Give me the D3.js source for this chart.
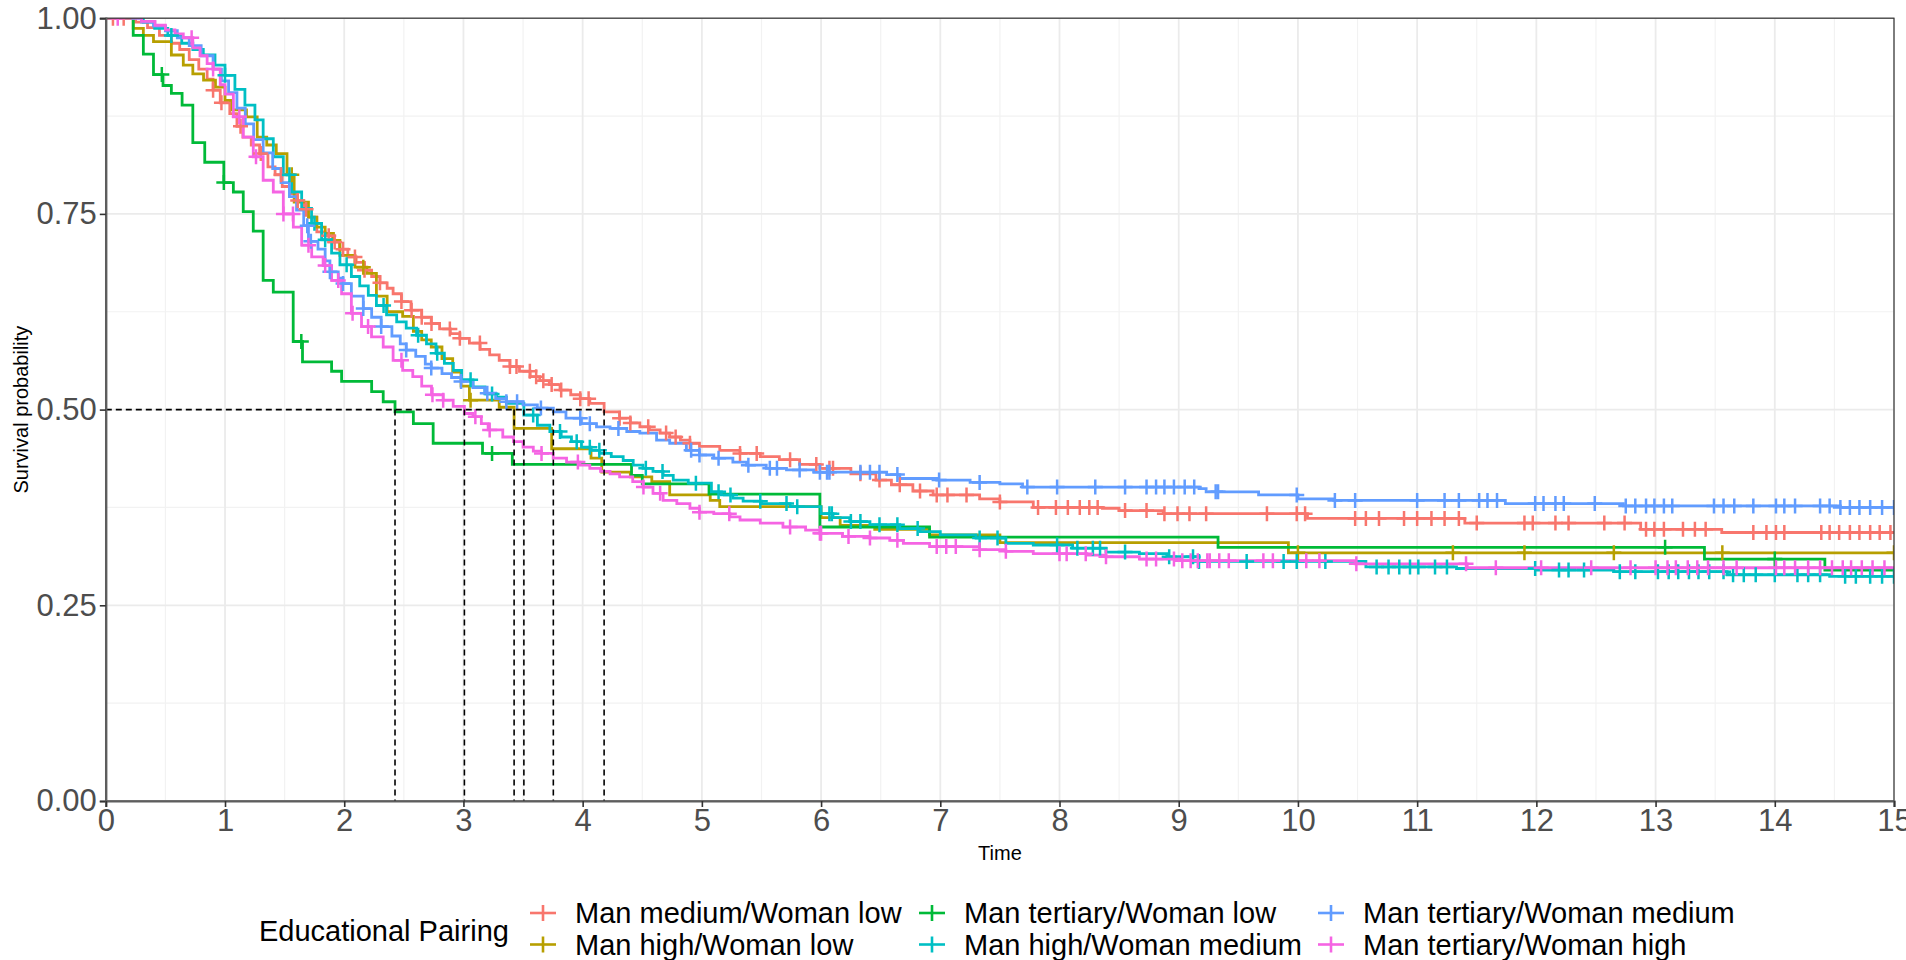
<!DOCTYPE html>
<html>
<head>
<meta charset="utf-8">
<script src="https://cdn.jsdelivr.net/npm/d3@7"></script>
<style>
  body { margin: 0; background: #ffffff; }
  svg { display: block; font-family: "Liberation Sans", Arial, Helvetica, sans-serif; }
</style>
</head>
<body>
<svg id="chart" width="1906" height="960"></svg>
<script>
// ---- Kaplan-Meier estimates by educational pairing ----
// Each step: [time, survival after the event at that time]
const groupNames = [
  "Man medium/Woman low",
  "Man high/Woman low",
  "Man tertiary/Woman low",
  "Man high/Woman medium",
  "Man tertiary/Woman medium",
  "Man tertiary/Woman high"
];
const groupColors = ["#F8766D", "#B79F00", "#00BA38", "#00BFC4", "#619CFF", "#F564E3"];

const stepsMediumLow = [
  [0.25,0.995],[0.35,0.988],[0.45,0.978],[0.55,0.968],[0.62,0.96],[0.7,0.947],[0.78,0.935],[0.85,0.922],
  [0.9,0.908],[0.96,0.892],[1.04,0.878],[1.1,0.862],[1.15,0.848],[1.22,0.838],[1.29,0.827],[1.36,0.81],
  [1.42,0.80],[1.48,0.785],[1.54,0.776],[1.6,0.767],[1.66,0.756],[1.7,0.746],[1.77,0.727],[1.84,0.722],
  [1.9,0.714],[1.96,0.705],[2.03,0.695],[2.1,0.688],[2.17,0.678],[2.23,0.670],[2.3,0.662],[2.36,0.655],
  [2.41,0.648],[2.48,0.638],[2.56,0.627],[2.65,0.618],[2.73,0.610],[2.8,0.603],[2.89,0.597],[2.97,0.591],
  [3.05,0.585],[3.14,0.577],[3.22,0.570],[3.3,0.563],[3.39,0.555],[3.47,0.549],[3.56,0.542],[3.64,0.537],
  [3.72,0.532],[3.81,0.525],[3.9,0.519],[3.98,0.514],[4.06,0.508],[4.18,0.497],[4.31,0.489],[4.4,0.483],
  [4.48,0.478],[4.56,0.474],[4.65,0.470],[4.73,0.465],[4.82,0.461],[4.9,0.457],[4.98,0.453],[5.15,0.448],
  [5.32,0.444],[5.49,0.440],[5.65,0.436],[5.82,0.430],[5.99,0.425],[6.25,0.418],[6.46,0.410],[6.59,0.404],
  [6.77,0.396],[6.94,0.391],[7.33,0.386],[7.5,0.382],[7.78,0.375],[8.36,0.374],[8.5,0.371],[8.87,0.367],
  [10.08,0.361],[11.40,0.355],[12.875,0.347],[13.555,0.343]
];
const stepsHighLow = [
  [0.23,0.987],[0.315,0.978],[0.4,0.970],[0.55,0.953],[0.65,0.940],[0.73,0.929],[0.82,0.921],[0.92,0.912],
  [1.0,0.895],[1.06,0.883],[1.18,0.874],[1.27,0.848],[1.35,0.838],[1.43,0.827],[1.52,0.80],[1.58,0.765],
  [1.70,0.746],[1.77,0.733],[1.84,0.725],[1.91,0.716],[1.964,0.697],[2.09,0.682],[2.19,0.674],[2.27,0.645],
  [2.36,0.625],[2.49,0.619],[2.58,0.600],[2.65,0.589],[2.73,0.580],[2.82,0.565],[2.91,0.548],[2.98,0.530],
  [3.05,0.512],[3.3,0.503],[3.425,0.476],[3.74,0.450],[4.07,0.438],[4.16,0.420],[4.4,0.414],[4.58,0.408],
  [4.73,0.391],[5.07,0.384],[5.15,0.376],[6.0,0.362],[6.16,0.352],[6.45,0.347],[6.91,0.340],[7.5,0.330],
  [9.92,0.317]
];
const stepsTertiaryLow = [
  [0.23,0.978],[0.315,0.954],[0.40,0.928],[0.48,0.914],[0.55,0.904],[0.64,0.889],[0.73,0.841],[0.83,0.816],
  [0.99,0.790],[1.07,0.778],[1.153,0.753],[1.237,0.728],[1.32,0.665],[1.405,0.650],[1.572,0.587],[1.65,0.561],
  [1.894,0.549],[1.978,0.536],[2.23,0.523],[2.327,0.510],[2.426,0.497],[2.58,0.482],[2.746,0.457],[3.16,0.444],
  [3.41,0.430],[4.41,0.416],[4.5,0.405],[5.06,0.392],[5.99,0.350],[6.91,0.337],[9.33,0.324],[13.41,0.309],
  [14.42,0.295]
];
const stepsHighMedium = [
  [0.315,0.995],[0.41,0.987],[0.52,0.978],[0.637,0.968],[0.73,0.960],[0.818,0.953],[0.916,0.940],[1.0,0.927],
  [1.083,0.909],[1.167,0.889],[1.251,0.870],[1.32,0.846],[1.405,0.823],[1.489,0.800],[1.559,0.778],[1.643,0.757],
  [1.726,0.738],[1.81,0.717],[1.894,0.700],[1.964,0.685],[2.06,0.670],[2.13,0.658],[2.202,0.646],[2.27,0.633],
  [2.355,0.621],[2.44,0.612],[2.52,0.604],[2.607,0.595],[2.69,0.584],[2.77,0.572],[2.84,0.559],[2.915,0.550],
  [2.985,0.538],[3.08,0.529],[3.18,0.520],[3.277,0.516],[3.36,0.508],[3.507,0.493],[3.62,0.480],[3.725,0.472],
  [3.82,0.465],[3.906,0.459],[3.99,0.452],[4.07,0.448],[4.143,0.444],[4.24,0.440],[4.34,0.435],[4.424,0.429],
  [4.506,0.425],[4.59,0.421],[4.675,0.416],[4.76,0.410],[4.886,0.406],[5.08,0.395],[5.164,0.391],[5.26,0.387],
  [5.346,0.383],[5.5,0.380],[5.74,0.376],[6.0,0.367],[6.1,0.362],[6.24,0.357],[6.41,0.353],[6.66,0.348],
  [6.83,0.344],[7.0,0.340],[7.30,0.336],[7.55,0.329],[7.78,0.327],[8.11,0.323],[8.39,0.318],[8.67,0.316],
  [8.9,0.312],[9.17,0.306],[10.57,0.299],[11.33,0.297],[12.0,0.295],[12.65,0.293],[13.6,0.289],[14.46,0.287]
];
const stepsTertiaryMedium = [
  [0.3,0.995],[0.4,0.99],[0.5,0.984],[0.6,0.975],[0.7,0.965],[0.8,0.952],[0.9,0.935],[0.97,0.92],
  [1.03,0.905],[1.1,0.885],[1.17,0.865],[1.24,0.845],[1.32,0.828],[1.4,0.808],[1.47,0.79],[1.54,0.772],
  [1.6,0.755],[1.66,0.735],[1.7,0.715],[1.78,0.705],[1.84,0.69],[1.88,0.676],[1.95,0.668],[1.99,0.661],
  [2.06,0.645],[2.16,0.629],[2.23,0.618],[2.31,0.606],[2.4,0.594],[2.47,0.584],[2.52,0.576],[2.6,0.568],
  [2.68,0.558],[2.73,0.553],[2.82,0.546],[2.9,0.541],[2.98,0.536],[3.08,0.528],[3.18,0.521],[3.27,0.514],
  [3.36,0.510],[3.5,0.506],[3.62,0.502],[3.754,0.497],[3.86,0.489],[3.99,0.482],[4.116,0.478],[4.23,0.476],
  [4.37,0.472],[4.48,0.470],[4.62,0.461],[4.73,0.457],[4.87,0.448],[4.98,0.442],[5.1,0.438],[5.26,0.433],
  [5.375,0.429],[5.54,0.425],[5.71,0.423],[5.94,0.420],[6.55,0.417],[6.66,0.412],[6.97,0.410],[7.25,0.407],
  [7.5,0.405],[7.69,0.401],[9.17,0.399],[9.23,0.395],[9.67,0.391],[10.0,0.386],[10.3,0.384],[11.74,0.380],
  [12.73,0.377],[14.55,0.375]
];
const stepsTertiaryHigh = [
  [0.3,0.996],[0.413,0.991],[0.5,0.985],[0.58,0.980],[0.65,0.975],[0.73,0.962],[0.79,0.952],[0.85,0.942],
  [0.9,0.935],[0.96,0.915],[1.0,0.903],[1.07,0.874],[1.153,0.848],[1.237,0.823],[1.32,0.793],[1.405,0.778],
  [1.489,0.750],[1.573,0.733],[1.643,0.710],[1.727,0.695],[1.823,0.684],[1.894,0.665],[1.978,0.648],[2.06,0.623],
  [2.145,0.606],[2.229,0.593],[2.327,0.580],[2.41,0.563],[2.49,0.550],[2.575,0.542],[2.65,0.530],[2.732,0.519],
  [2.83,0.512],[2.914,0.504],[3.008,0.495],[3.08,0.491],[3.15,0.482],[3.207,0.474],[3.33,0.465],[3.42,0.459],
  [3.5,0.452],[3.586,0.447],[3.655,0.444],[3.753,0.438],[3.865,0.433],[3.977,0.429],[4.06,0.425],[4.15,0.421],
  [4.23,0.418],[4.31,0.414],[4.42,0.408],[4.506,0.401],[4.59,0.393],[4.675,0.384],[4.79,0.380],[4.9,0.374],
  [4.98,0.369],[5.1,0.367],[5.236,0.363],[5.32,0.359],[5.49,0.355],[5.68,0.350],[5.87,0.346],[5.99,0.342],
  [6.18,0.338],[6.41,0.336],[6.576,0.333],[6.69,0.329],[6.91,0.325],[7.33,0.321],[7.55,0.319],[7.78,0.316],
  [8.23,0.314],[8.39,0.312],[8.67,0.309],[9.0,0.307],[10.48,0.303],[11.42,0.298]
];

// Censoring times per group
const censorMediumLow = [0.06,0.15,0.9,0.97,1.13,1.3,1.47,1.61,1.68,1.87,1.92,1.99,2.09,2.17,2.3,2.48,2.565,2.65,
  2.732,2.886,2.97,3.138,3.39,3.445,3.557,3.61,3.67,3.74,3.82,3.98,4.05,4.31,4.4,4.55,4.7,4.78,4.9,5.32,5.46,
  5.74,5.96,6.07,6.10,6.33,6.49,6.66,6.83,6.97,7.06,7.22,7.5,7.82,7.97,8.07,8.17,8.25,8.32,8.55,8.73,8.88,8.99,
  9.09,9.23,9.74,9.99,10.06,10.48,10.57,10.68,10.89,11.0,11.12,11.23,11.35,11.5,11.9,11.97,12.16,12.27,12.57,
  12.74,12.92,12.99,13.07,13.23,13.33,13.42,13.82,13.93,14.01,14.08,14.39,14.46,14.54,14.63,14.71,14.8,14.88,14.97];
const censorHighLow = [1.56,2.16,3.06,10.0,11.3,11.9,12.65,13.56,15.0];
const censorTertiaryLow = [0.47,0.99,1.64,3.24,13.08,14.0];
const censorHighMedium = [0.55,1.0,1.54,1.75,1.84,2.02,2.33,2.62,2.78,3.06,3.24,3.585,3.81,3.95,4.06,4.14,4.53,
  4.67,4.95,5.14,5.24,5.49,5.71,5.8,6.07,6.09,6.25,6.33,6.49,6.64,6.81,7.33,7.48,7.98,8.15,8.28,8.34,8.55,8.92,
  9.12,9.17,9.57,9.88,9.99,10.23,10.66,10.76,10.85,10.94,11.01,11.15,11.25,11.99,12.19,12.27,12.4,12.7,12.83,
  13.02,13.11,13.19,13.28,13.36,13.45,13.57,13.65,13.74,13.84,14.0,14.19,14.28,14.38,14.59,14.68,14.8,14.9,15.0];
const censorTertiaryMedium = [1.69,1.72,1.88,1.99,2.16,2.31,2.52,2.73,2.98,3.2,3.36,3.45,3.65,3.98,4.06,4.3,4.91,
  4.98,5.14,5.39,5.57,5.63,5.82,5.99,6.05,6.07,6.33,6.41,6.49,6.64,6.99,7.33,7.73,7.98,8.30,8.55,8.73,8.81,8.88,
  8.96,9.05,9.13,9.31,9.33,9.99,10.31,10.48,11.0,11.23,11.35,11.52,11.59,11.67,11.99,12.06,12.16,12.23,12.49,
  12.75,12.83,12.92,12.99,13.07,13.14,13.49,13.57,13.66,13.82,14.01,14.08,14.17,14.38,14.46,14.55,14.63,14.71,
  14.8,14.9,15.0];
const censorTertiaryHigh = [0.1,0.72,0.9,1.12,1.26,1.49,1.57,1.70,1.84,1.95,2.07,2.2,2.48,2.74,2.83,3.1,3.22,
  3.655,3.96,4.51,4.65,4.98,5.23,5.74,5.99,6.0,6.23,6.41,6.64,6.97,7.05,7.13,7.33,7.55,8.0,8.06,8.22,8.39,8.73,
  8.81,8.96,9.03,9.1,9.16,9.24,9.26,9.34,9.42,9.71,9.79,10.07,10.18,10.49,11.41,11.66,12.04,12.46,12.79,13.0,
  13.1,13.17,13.27,13.35,13.44,13.57,13.68,14.01,14.08,14.17,14.28,14.38,14.48,14.57,14.64,14.73,14.82,14.92];

const xTicks = d3.range(0, 16);
const yTicks = [0, 0.25, 0.5, 0.75, 1];
const xMinor = d3.range(0.5, 15, 1);
const yMinor = [0.125, 0.375, 0.625, 0.875];

const allSteps = [stepsMediumLow, stepsHighLow, stepsTertiaryLow, stepsHighMedium, stepsTertiaryMedium, stepsTertiaryHigh];
const allCensor = [censorMediumLow, censorHighLow, censorTertiaryLow, censorHighMedium, censorTertiaryMedium, censorTertiaryHigh];

// ---- layout ----
const panel = { left: 105.8, right: 1894, top: 18.2, bottom: 801 };
const x = d3.scaleLinear().domain([0, 15]).range([panel.left, panel.right]);
const y = d3.scaleLinear().domain([0, 1]).range([panel.bottom, panel.top]);

const svg = d3.select("#chart");

svg.append("defs").append("clipPath").attr("id", "panelClip")
  .append("rect")
  .attr("x", panel.left).attr("y", panel.top)
  .attr("width", panel.right - panel.left).attr("height", panel.bottom - panel.top);

// grid
const grid = svg.append("g");
grid.selectAll(".xminor").data(xMinor).join("line")
  .attr("x1", d => x(d)).attr("x2", d => x(d)).attr("y1", panel.top).attr("y2", panel.bottom)
  .attr("stroke", "#F2F2F2").attr("stroke-width", 1.2);
grid.selectAll(".yminor").data(yMinor).join("line")
  .attr("y1", d => y(d)).attr("y2", d => y(d)).attr("x1", panel.left).attr("x2", panel.right)
  .attr("stroke", "#F2F2F2").attr("stroke-width", 1.2);
grid.selectAll(".xmajor").data(xTicks).join("line")
  .attr("x1", d => x(d)).attr("x2", d => x(d)).attr("y1", panel.top).attr("y2", panel.bottom)
  .attr("stroke", "#EBEBEB").attr("stroke-width", 1.8);
grid.selectAll(".ymajor").data(yTicks).join("line")
  .attr("y1", d => y(d)).attr("y2", d => y(d)).attr("x1", panel.left).attr("x2", panel.right)
  .attr("stroke", "#EBEBEB").attr("stroke-width", 1.8);

// survival at a given time from a step list
function survivalAt(steps, t) {
  let s = 1;
  for (const [ts, v] of steps) { if (ts <= t) s = v; else break; }
  return s;
}

const line = d3.line().x(d => x(d[0])).y(d => y(d[1])).curve(d3.curveStepAfter);
const curves = svg.append("g").attr("clip-path", "url(#panelClip)");

allSteps.forEach((steps, i) => {
  const pts = [[0, 1], ...steps, [15.2, steps[steps.length - 1][1]]];
  curves.append("path").datum(pts)
    .attr("d", line)
    .attr("fill", "none")
    .attr("stroke", groupColors[i])
    .attr("stroke-width", 2.8)
    .attr("stroke-linejoin", "miter");
});

const plusHalf = 7.5;
allCensor.forEach((times, i) => {
  const g = curves.append("g").attr("stroke", groupColors[i]).attr("stroke-width", 2.5);
  g.selectAll("path").data(times).join("path")
    .attr("d", t => {
      const cx = x(t), cy = y(survivalAt(allSteps[i], t));
      return `M${cx - plusHalf},${cy}H${cx + plusHalf}M${cx},${cy - plusHalf}V${cy + plusHalf}`;
    });
});

// median survival reference lines
const medians = allSteps.map(steps => { const f = steps.find(d => d[1] <= 0.5); return f ? f[0] : null; })
  .filter(d => d !== null);
const medGroup = svg.append("g").attr("stroke", "#000").attr("stroke-width", 1.6)
  .attr("stroke-dasharray", "6,4").attr("fill", "none");
medGroup.append("line")
  .attr("x1", x(0)).attr("x2", x(d3.max(medians))).attr("y1", y(0.5)).attr("y2", y(0.5));
medGroup.selectAll(".v").data(medians).join("line")
  .attr("x1", d => x(d)).attr("x2", d => x(d)).attr("y1", y(0.5)).attr("y2", y(0));

// panel border
svg.append("rect")
  .attr("x", panel.left).attr("y", panel.top)
  .attr("width", panel.right - panel.left).attr("height", panel.bottom - panel.top)
  .attr("fill", "none").attr("stroke", "#333333").attr("stroke-width", 1.2);

// axes
const tickColor = "#4D4D4D";
const yAxis = svg.append("g").attr("transform", `translate(${panel.left},0)`)
  .call(d3.axisLeft(y).tickValues(yTicks).tickFormat(d3.format(".2f")).tickSize(6).tickPadding(3));
const xAxis = svg.append("g").attr("transform", `translate(0,${panel.bottom})`)
  .call(d3.axisBottom(x).tickValues(xTicks).tickFormat(d3.format("d")).tickSize(6).tickPadding(2));
[yAxis, xAxis].forEach(ax => {
  ax.select(".domain").attr("stroke", "#5E5E5E").attr("stroke-width", 2.2);
  ax.selectAll(".tick line").attr("stroke", "#333333").attr("stroke-width", 1.6);
  ax.selectAll(".tick text").attr("fill", tickColor)
    .style("font-size", "31px").style("font-family", '"Liberation Sans", Arial, sans-serif');
});

// axis titles
svg.append("text")
  .attr("x", (panel.left + panel.right) / 2).attr("y", 860)
  .attr("text-anchor", "middle").attr("fill", "#000")
  .style("font-size", "20px").text("Time");
svg.append("text")
  .attr("transform", `translate(28,${(panel.top + panel.bottom) / 2}) rotate(-90)`)
  .attr("text-anchor", "middle").attr("fill", "#000")
  .style("font-size", "20px").text("Survival probability");

// legend
const legend = svg.append("g");
legend.append("text").attr("x", 259).attr("y", 941)
  .attr("fill", "#000").style("font-size", "29px").text("Educational Pairing");
const colKeyX = [543, 932, 1331];
const rowY = [913, 944.5];
groupNames.forEach((name, i) => {
  const col = Math.floor(i / 2), row = i % 2;
  const kx = colKeyX[col], ky = rowY[row];
  const g = legend.append("g").attr("stroke", groupColors[i]).attr("stroke-width", 2.6);
  g.append("line").attr("x1", kx - 13).attr("x2", kx + 13).attr("y1", ky).attr("y2", ky);
  g.append("line").attr("x1", kx).attr("x2", kx).attr("y1", ky - 8).attr("y2", ky + 8);
  legend.append("text").attr("x", kx + 32).attr("y", ky + 10.4)
    .attr("fill", "#000").style("font-size", "29px").text(name);
});
</script>
</body>
</html>
